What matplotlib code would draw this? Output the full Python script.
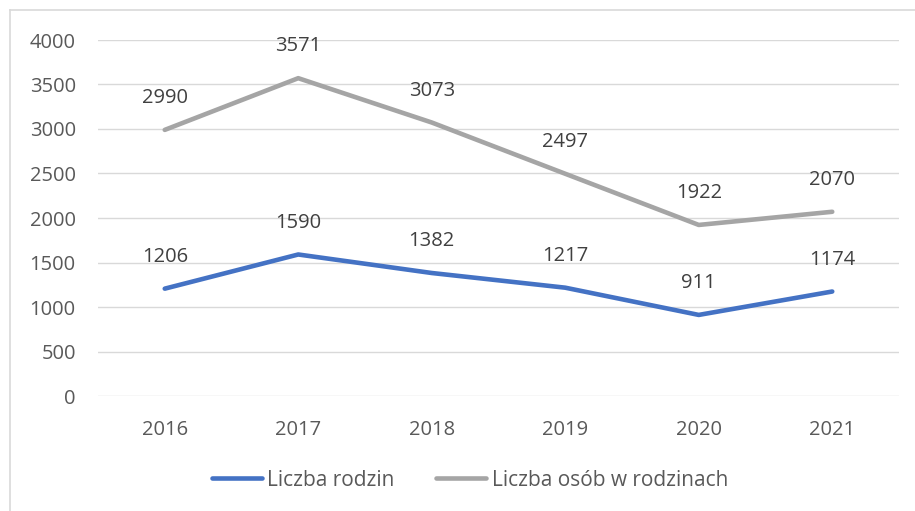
import matplotlib.pyplot as plt
from matplotlib.lines import Line2D

years = ["2016", "2017", "2018", "2019", "2020", "2021"]
rodziny = [1206, 1590, 1382, 1217, 911, 1174]
osoby = [2990, 3571, 3073, 2497, 1922, 2070]
labels = ["Liczba rodzin", "Liczba osób w rodzinach"]

plt.rcParams["font.family"] = ["Open Sans", "DejaVu Sans"]
fs = 14.5

fig = plt.figure(figsize=(9.15, 5.11), dpi=100)
ax = fig.add_axes([98 / 915, 115 / 511, 801 / 915, 356 / 511])

x = range(len(years))
ax.plot(x, osoby, color="#A5A5A5", lw=3.3, solid_capstyle="round", zorder=3)
ax.plot(x, rodziny, color="#4472C4", lw=3.3, solid_capstyle="round", zorder=3)

for xi, v in zip(x, osoby):
    ax.annotate(str(v), (xi, v), xytext=(0, 23), textcoords="offset points",
                ha="center", va="center", fontsize=fs, color="#404040")
for xi, v in zip(x, rodziny):
    ax.annotate(str(v), (xi, v), xytext=(0, 23), textcoords="offset points",
                ha="center", va="center", fontsize=fs, color="#404040")

ax.set_xlim(-0.5, len(years) - 0.5)
ax.set_ylim(0, 4000)
ax.set_yticks(range(0, 4001, 500))
ax.set_xticks(list(x))
ax.set_xticklabels(years)
ax.grid(axis="y", color="#D9D9D9", lw=1)
ax.set_axisbelow(True)
for s in ax.spines.values():
    s.set_visible(False)
ax.tick_params(length=0, labelsize=fs, labelcolor="#595959")
ax.tick_params(axis="y", pad=16)
ax.tick_params(axis="x", pad=17)

# frame of the chart area (left and top edges visible)
fig.add_artist(Line2D([10 / 915, 10 / 915], [0, 1 - 10 / 511], color="#D9D9D9", lw=1.2))
fig.add_artist(Line2D([10 / 915, 1], [1 - 10 / 511, 1 - 10 / 511], color="#D9D9D9", lw=1.2))

handles = [Line2D([], [], color="#4472C4", lw=3.3, solid_capstyle="round"),
           Line2D([], [], color="#A5A5A5", lw=3.3, solid_capstyle="round")]
fig.legend(handles, labels, loc="center", bbox_to_anchor=(470 / 915, 1 - 480 / 511),
           ncol=2, frameon=False, fontsize=15, labelcolor="#595959",
           handlelength=2.4, handletextpad=0.25, columnspacing=2.0)

fig.savefig("out.png", dpi=100)
